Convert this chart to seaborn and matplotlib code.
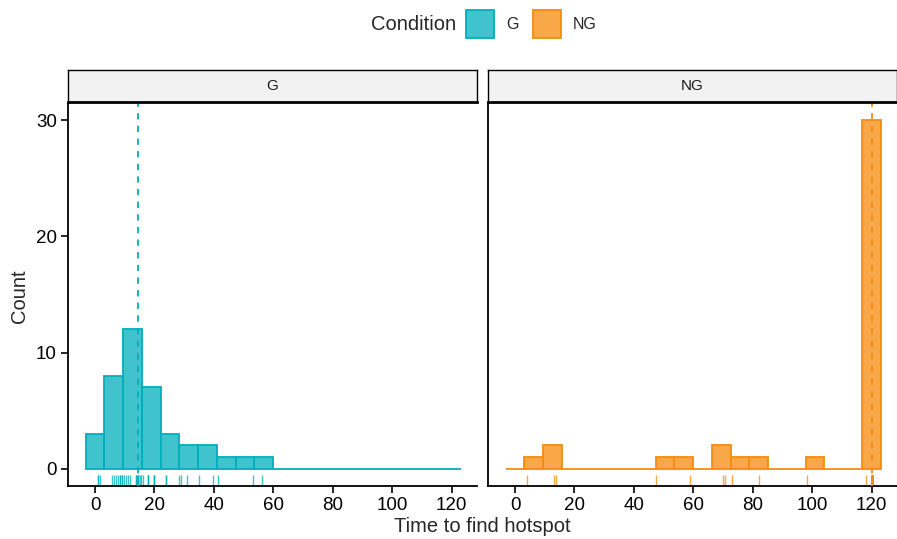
import numpy as np
import matplotlib
matplotlib.use("Agg")
import matplotlib.pyplot as plt
from matplotlib.patches import Patch
import seaborn as sns

sns.set_style("white")
plt.rcParams["font.family"] = ["Liberation Sans", "DejaVu Sans"]

# ---- data (time to find hotspot, seconds) ----
conditions = ["G", "NG"]
time_g = [0.9, 0.9, 1.8,
          5.8, 6.5, 7.1, 7.8, 8.5, 8.5, 9.2, 9.2,
          9.8, 10.5, 11.2, 11.8, 13.9, 13.9, 14.2, 14.4, 14.4, 14.5, 15.2, 15.5,
          16.0, 17.9, 17.9, 17.9, 19.9, 19.9, 19.9,
          23.9, 23.9, 28.1,
          29.0, 31.0,
          35.0, 39.7,
          41.3, 53.1, 56.0]
time_ng = [4.1, 13.1, 13.8, 47.5, 58.9, 70.1, 70.8, 73.0, 82.0, 98.1, 118.0] + [120.0] * 29
x_ticks = [0, 20, 40, 60, 80, 100, 120]
y_ticks = [0, 10, 20, 30]

line_colors = {"G": "#00AFBB", "NG": "#F68B0C"}
data = {"G": time_g, "NG": time_ng}

W, H = 897, 539
fig = plt.figure(figsize=(W / 100, H / 100), dpi=100)

panel_px = {"G": (68, 477), "NG": (488, 897)}
p_top, p_bot = 103, 486
s_top = 70

for cond in conditions:
    x0, x1 = panel_px[cond]
    ax = fig.add_axes([x0 / W, 1 - p_bot / H, (x1 - x0) / W, (p_bot - p_top) / H])
    c = line_colors[cond]
    rgb = matplotlib.colors.to_rgb(c)
    vals = np.array(data[cond])
    sns.histplot(x=vals, ax=ax, bins=20, binrange=(-3.2, 123.0),
                 facecolor=(*rgb, 0.75), edgecolor=c, linewidth=1.3)
    sns.rugplot(x=vals, ax=ax, height=0.03, color=c, linewidth=1.0, alpha=0.75,
                expand_margins=False)
    ax.axvline(np.median(vals), color=c, linestyle=(0, (3.5, 3.5)), linewidth=1.3, zorder=5)
    ax.set_xlim(-9.1, 128.5)
    ax.set_ylim(-1.5, 31.5)
    ax.set_xticks(x_ticks)
    ax.set_yticks(y_ticks)
    ax.set_xlabel("")
    ax.set_ylabel("")
    for s in ["top", "right"]:
        ax.spines[s].set_visible(False)
    for s in ["left", "bottom"]:
        ax.spines[s].set_color("black")
        ax.spines[s].set_linewidth(1.3)
    ax.tick_params(axis="both", direction="out", length=5, width=1.2, color="black",
                   labelsize=13.5, labelcolor="black", pad=3, bottom=True, left=True)
    if cond == "NG":
        ax.tick_params(axis="y", left=False, labelleft=False)
    ax.set_facecolor("white")

    # strip
    sax = fig.add_axes([x0 / W, 1 - (p_top - 1) / H, (x1 - x0) / W, (p_top - 1 - s_top) / H])
    sax.set_facecolor("#F2F2F2")
    sax.set_xticks([])
    sax.set_yticks([])
    for s in sax.spines.values():
        s.set_color("black")
        s.set_linewidth(1.0)
    sax.spines["bottom"].set_linewidth(2.0)
    sax.text(0.5, 0.5, cond, ha="center", va="center", fontsize=11, color="#1a1a1a",
             transform=sax.transAxes)

fig.text(482 / W, 1 - 527 / H, "Time to find hotspot", ha="center", va="center", fontsize=14.5)
fig.text(20 / W, 1 - 296 / H, "Count", ha="center", va="center", rotation=90, fontsize=14.5)

# legend
fig.text(414 / W, 1 - 24 / H, "Condition", ha="center", va="center", fontsize=14.5)
handles = []
for cond in conditions:
    c = line_colors[cond]
    rgb = matplotlib.colors.to_rgb(c)
    handles.append(Patch(facecolor=(*rgb, 0.75), edgecolor=c, linewidth=1.3))
fig.legend(handles, conditions, loc="center left", bbox_to_anchor=(466 / W, 1 - 24 / H),
           ncol=2, frameon=False, fontsize=11.5, handlelength=1.75, handleheight=2.3,
           handletextpad=0.75, columnspacing=0.9, borderaxespad=0, borderpad=0)

fig.savefig("out.png", dpi=100, facecolor="white")
